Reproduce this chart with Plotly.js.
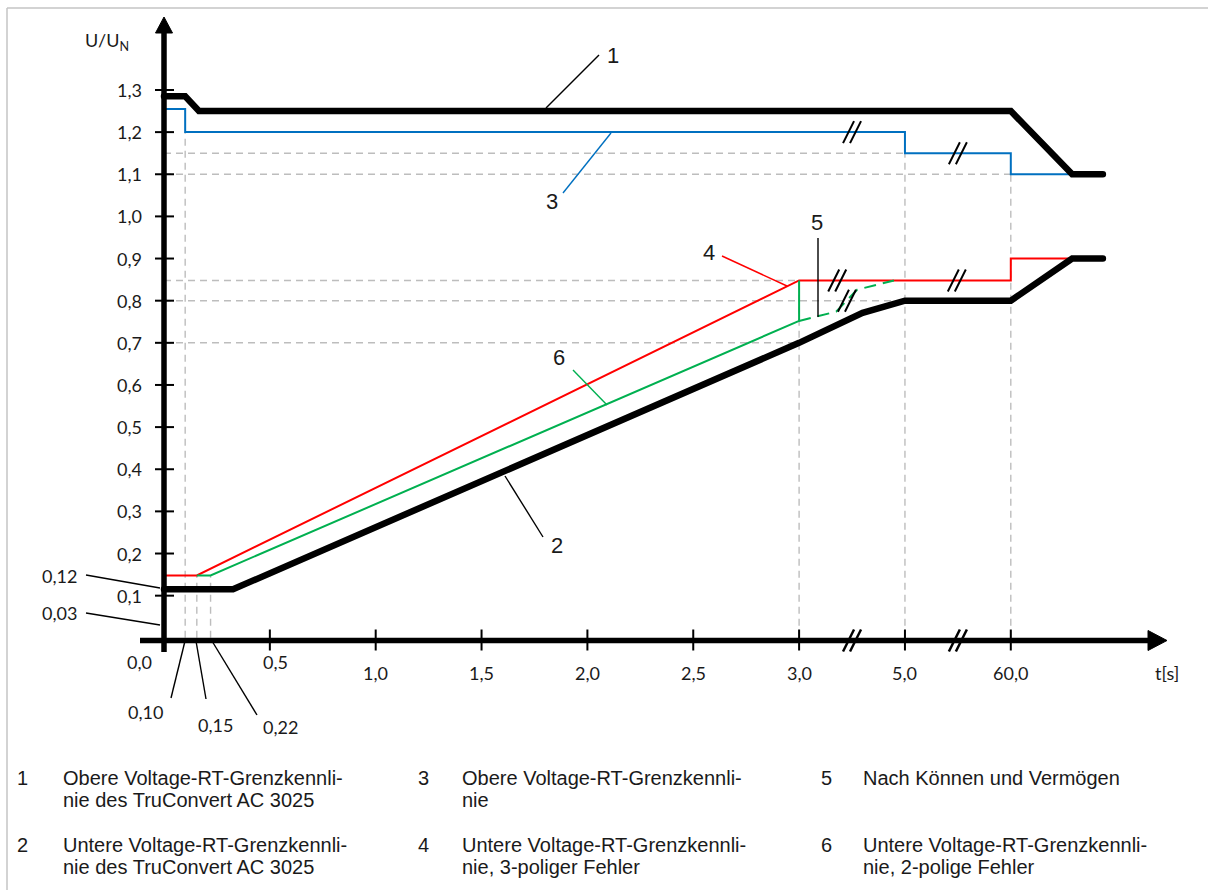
<!DOCTYPE html>
<html>
<head>
<meta charset="utf-8">
<script src="https://cdn.plot.ly/plotly-3.0.1.min.js"></script>
<style>
html,body{margin:0;padding:0;background:#ffffff;}
#chart{width:1208px;height:890px;}
#chart .scatterlayer .trace:nth-child(6) path.js-line,
#chart .scatterlayer .trace:nth-child(7) path.js-line{stroke-linecap:round;}
</style>
</head>
<body>
<div id="chart"></div>
<script>
// ---- DATA (axis units: 0..3 = t in s, 3.5 = "5,0" s, 4.0 = "60,0" s; broken axis) ----
const curve1X = [0, 0.1, 0.165, 4.0, 4.29, 4.435];          // 1 Obere Grenzkennlinie TruConvert
const curve1Y = [1.285, 1.285, 1.25, 1.25, 1.1, 1.1];
const curve2X = [0, 0.326, 3.0, 3.3, 3.5, 4.0, 4.29, 4.435]; // 2 Untere Grenzkennlinie TruConvert
const curve2Y = [0.115, 0.115, 0.7, 0.771, 0.8, 0.8, 0.9, 0.9];
const curve3X = [0, 0.1, 0.1, 3.5, 3.5, 4.0, 4.0, 4.29];     // 3 Obere Grenzkennlinie
const curve3Y = [1.255, 1.255, 1.2, 1.2, 1.15, 1.15, 1.1, 1.1];
const curve4X = [0, 0.155, 3.0, 4.0, 4.0, 4.29];             // 4 Untere, 3-polig
const curve4Y = [0.148, 0.148, 0.848, 0.848, 0.9, 0.9];
const curve6X = [0.155, 0.22, 3.0, 3.0];                      // 6 Untere, 2-polig
const curve6Y = [0.148, 0.148, 0.752, 0.848];
const curve6dX = [3.0, 3.175, 3.274, 3.448];                  // 6 dashed continuation
const curve6dY = [0.752, 0.774, 0.826, 0.848];

const yTickVals = [0.1,0.2,0.3,0.4,0.5,0.6,0.7,0.8,0.9,1.0,1.1,1.2,1.3];
const yTickText = ['0,1','0,2','0,3','0,4','0,5','0,6','0,7','0,8','0,9','1,0','1,1','1,2','1,3'];
const xTickVals = [0.5,1.0,1.5,2.0,2.5,3.0,3.5,4.0];
const xTickText = ['0,5','1,0','1,5','2,0','2,5','3,0','5,0','60,0'];

// dashed guide lines
const guideHY = [1.15, 1.1, 0.848, 0.8, 0.7];
const guideHX = [3.5, 4.0, 3.0, 3.5, 3.0];
const guideVX = [0.1, 0.155, 0.22, 3.0, 3.5, 4.0];
const guideVY = [1.2, 0.148, 0.148, 0.848, 1.15, 1.1];

// axis-break marks "//"
const breakX = [3.25, 3.75, 3.18, 3.745, 3.226];
const breakY = [1.2, 1.15, 0.848, 0.848, 0.80];
const axisBreakX = [3.25, 3.75];

// legend
const legNums = ['1','2','3','4','5','6'];
const legLines = [
  ['Obere Voltage-RT-Grenzkennli-','nie des TruConvert AC 3025'],
  ['Untere Voltage-RT-Grenzkennli-','nie des TruConvert AC 3025'],
  ['Obere Voltage-RT-Grenzkennli-','nie'],
  ['Untere Voltage-RT-Grenzkennli-','nie, 3-poliger Fehler'],
  ['Nach Können und Vermögen'],
  ['Untere Voltage-RT-Grenzkennli-','nie, 2-polige Fehler']
];

// ---- LAYOUT GEOMETRY ----
const W = 1208, H = 890;
const X0PX = 164, XS = 211.7;     // pixel of x=0, px per unit
const Y0PX = 637.8, YS = 421.4;   // pixel of y=0, px per unit
const xRange = [-X0PX/XS, (W-X0PX)/XS];
const yRange = [(Y0PX-H)/YS, Y0PX/YS];
const px = (x)=>x/W, py = (y)=>1-y/H;
const dx = (p)=>(p-X0PX)/XS, dy = (p)=>(Y0PX-p)/YS;

const BLUE='#0070C0', RED='#FF0000', GREEN='#00B050', GRID='#BDBDBD';
const NUMFONT = 'Lato, "Open Sans", sans-serif';
const ARIAL = '"Liberation Sans", Arial, sans-serif';

// guide trace
const gx=[], gy=[];
guideHY.forEach((y,i)=>{ gx.push(0, guideHX[i], null); gy.push(y, y, null); });
guideVX.forEach((x,i)=>{ gx.push(x, x, null); gy.push(0, guideVY[i], null); });

const traces = [
  {x:gx, y:gy, mode:'lines', line:{color:GRID, width:1.4, dash:'7px,5px'}, hoverinfo:'skip'},
  {x:curve3X, y:curve3Y, mode:'lines', line:{color:BLUE, width:2}},
  {x:curve4X, y:curve4Y, mode:'lines', line:{color:RED, width:2}},
  {x:curve6X, y:curve6Y, mode:'lines', line:{color:GREEN, width:2}},
  {x:curve6dX, y:curve6dY, mode:'lines', line:{color:GREEN, width:2, dash:'12px,7px'}},
  {x:curve1X, y:curve1Y, mode:'lines', line:{color:'#000', width:6.5}},
  {x:curve2X, y:curve2Y, mode:'lines', line:{color:'#000', width:6.5}}
];

const shapes = [];
// frame
shapes.push({type:'line', xref:'paper', yref:'paper', x0:px(7), y0:py(8), x1:1, y1:py(8), line:{color:'#C4C4C4', width:1.5}});
shapes.push({type:'line', xref:'paper', yref:'paper', x0:px(7), y0:py(8), x1:px(7), y1:0, line:{color:'#C4C4C4', width:1.5}});
// axes
const xAxisY = dy(640.5);
shapes.push({type:'line', xref:'x', yref:'y', x0:0, x1:0, y0:dy(652), y1:dy(30), line:{color:'#000', width:5.5}});
shapes.push({type:'line', xref:'x', yref:'y', x0:dx(140), x1:dx(1150), y0:xAxisY, y1:xAxisY, line:{color:'#000', width:5.5}});
shapes.push({type:'path', xref:'x', yref:'y', xsizemode:'pixel', ysizemode:'pixel', xanchor:0, yanchor:dy(17),
  path:'M0,0 L-8.5,-16 L8.5,-16 Z', fillcolor:'#000', line:{color:'#000', width:1}});
shapes.push({type:'path', xref:'x', yref:'y', xsizemode:'pixel', ysizemode:'pixel', xanchor:dx(1167), yanchor:xAxisY,
  path:'M0,0 L-19,10 L-19,-10 Z', fillcolor:'#000', line:{color:'#000', width:1}});
// ticks
yTickVals.forEach(v=>shapes.push({type:'line', xref:'x', yref:'y', xsizemode:'pixel', xanchor:0, x0:-9, x1:10, y0:v, y1:v, line:{color:'#000', width:2}}));
xTickVals.forEach(v=>shapes.push({type:'line', xref:'x', yref:'y', ysizemode:'pixel', yanchor:xAxisY, y0:-10, y1:11, x0:v, x1:v, line:{color:'#000', width:2}}));
// break marks
function brk(x, y, w){
  shapes.push({type:'line', xref:'x', yref:'y', xsizemode:'pixel', ysizemode:'pixel', xanchor:x, yanchor:y, x0:-9, y0:-11, x1:2, y1:11, line:{color:'#000', width:w}});
  shapes.push({type:'line', xref:'x', yref:'y', xsizemode:'pixel', ysizemode:'pixel', xanchor:x, yanchor:y, x0:-2, y0:-11, x1:9, y1:11, line:{color:'#000', width:w}});
}
breakX.forEach((x,i)=>brk(x, breakY[i], 2));
axisBreakX.forEach(x=>brk(x, xAxisY, 2.5));
// leader lines (pixel positions)
const leaders = [
  [599,55,546,108,'#000'], [563,193,611,133,BLUE], [722,256,787,286,RED], [818,238,818,317,'#000'],
  [573,370,607,405,GREEN], [543,537,505,476,'#000'],
  [86,575,160,588,'#000'], [86,613,160,625,'#000'],
  [185,641,171,698,'#000'], [196,641,206,699,'#000'], [212,641,257,715,'#000']
];
leaders.forEach(l=>shapes.push({type:'line', xref:'paper', yref:'paper', x0:px(l[0]), y0:py(l[1]), x1:px(l[2]), y1:py(l[3]), line:{color:l[4], width:1.4}}));

const ann = [];
function txt(t, x, y, size, fam, xa){
  ann.push({text:t, xref:'paper', yref:'paper', x:px(x), y:py(y), xanchor:xa||'center', yanchor:'middle',
    showarrow:false, font:{family:fam, size:size, color:'#1a1a1a'}});
}
// y tick labels
yTickVals.forEach((v,i)=>ann.push({text:yTickText[i], xref:'x', yref:'y', x:0, y:v, xanchor:'right', yanchor:'middle', xshift:-20,
  showarrow:false, font:{family:NUMFONT, size:18, color:'#1a1a1a'}}));
// x tick labels (first one sits higher)
xTickVals.forEach((v,i)=>ann.push({text:xTickText[i], xref:'x', yref:'y', x:v, y:0, xanchor:'center', yanchor:'middle',
  xshift: i===0?6:0, yshift: i===0?-24:-35, showarrow:false, font:{family:NUMFONT, size:18, color:'#1a1a1a'}}));
txt('0,0', 139, 662, 18, NUMFONT);
txt('0,12', 59, 576, 18, NUMFONT);
txt('0,03', 59, 613, 18, NUMFONT);
txt('0,10', 145, 712, 18, NUMFONT);
txt('0,15', 215, 725, 18, NUMFONT);
txt('0,22', 280, 727, 18, NUMFONT);
txt('U/U<sub>N</sub>', 131, 42, 18, NUMFONT, 'right');
txt('t[s]', 1167, 673, 18, NUMFONT);
// callout numbers
[['1',613,55],['3',552,202],['4',709,252],['5',817,222],['6',559,357],['2',557,545]].forEach(c=>txt(c[0], c[1], c[2], 22, ARIAL));
// legend
const colNumX = [22, 423, 826], colTxtX = [61, 460, 861];
const rowY = [[778,800],[845,867]];
legNums.forEach((n,i)=>{
  const col = Math.floor(i/2), row = i%2;
  txt(n, colNumX[col], rowY[row][0], 20, ARIAL);
  legLines[i].forEach((line,j)=>txt(line, colTxtX[col], rowY[row][j], 20, ARIAL, 'left'));
});

const layout = {
  width: W, height: H,
  margin:{l:0, r:0, t:0, b:0, pad:0},
  paper_bgcolor:'#ffffff', plot_bgcolor:'#ffffff',
  showlegend:false, hovermode:false,
  xaxis:{range:xRange, visible:false, fixedrange:true},
  yaxis:{range:yRange, visible:false, fixedrange:true},
  shapes: shapes, annotations: ann
};
Plotly.newPlot('chart', traces, layout, {staticPlot:true, displayModeBar:false});
</script>
</body>
</html>
